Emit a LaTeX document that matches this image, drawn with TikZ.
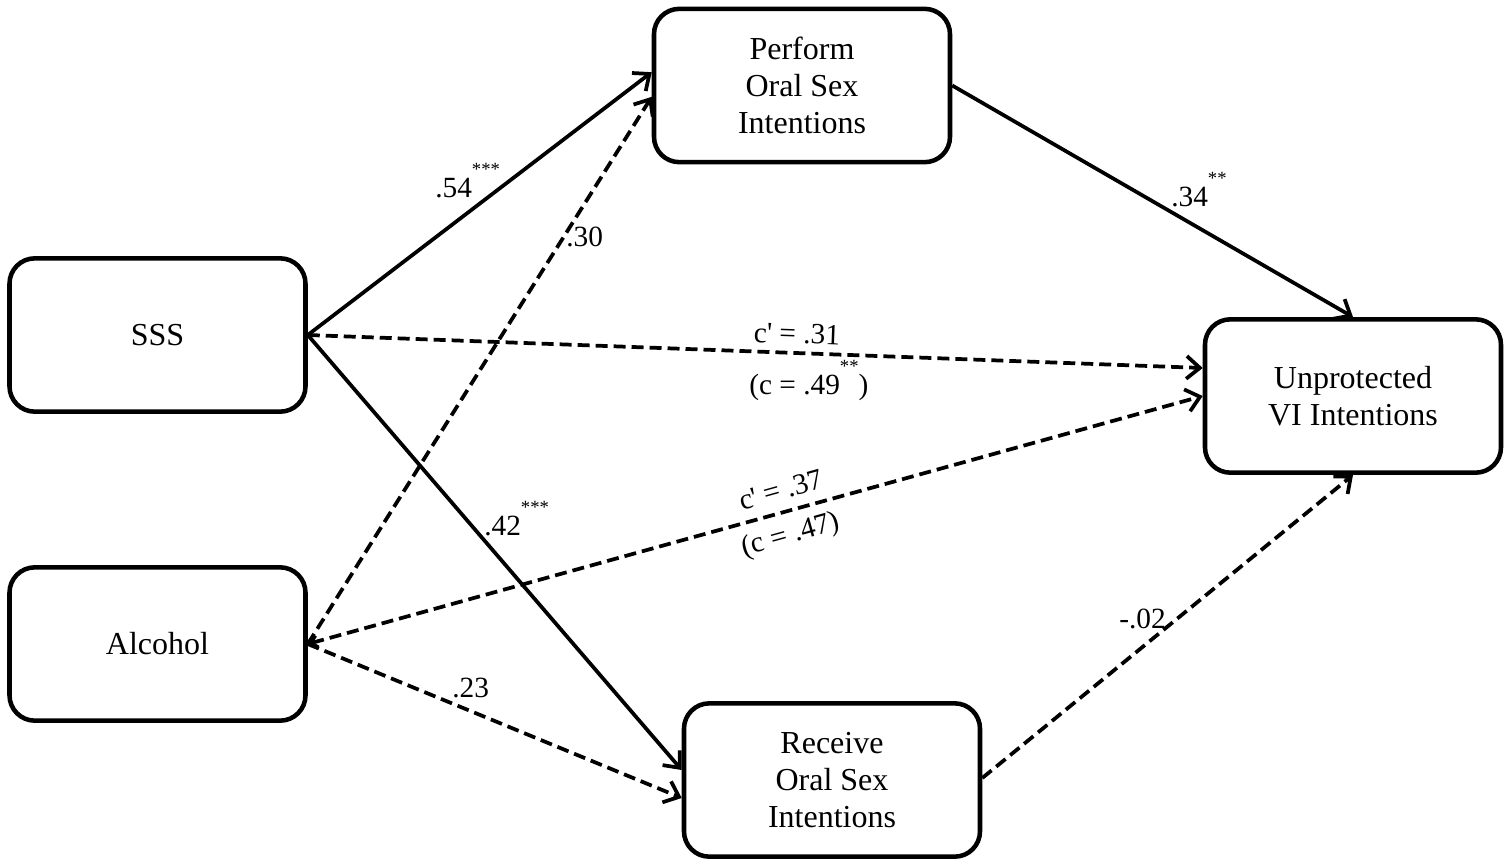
\documentclass[tikz,border=0pt]{standalone}
\usepackage{fontspec}
\setmainfont{Liberation Serif}
\usetikzlibrary{arrows.meta}
\newcommand{\stars}[1]{\raisebox{1.6ex}{\fontsize{14}{14}\selectfont#1}}
\tikzset{
  box/.style={draw, line width=3.4pt, rounded corners=19pt, minimum width=222pt, minimum height=115pt,
    inner sep=0pt, align=center, font=\fontsize{24}{27.8}\selectfont},
  path/.style={line width=2.8pt, -{Straight Barb[length=10pt,width=17pt]}},
  dpath/.style={path, dash pattern=on 9pt off 4.5pt},
  lbl/.style={font=\fontsize{22}{24}\selectfont, inner sep=0pt}
}
\begin{document}
\begin{tikzpicture}[x=0.75pt,y=-0.75pt]
\useasboundingbox (0,0) rectangle (1511,861);
\node[box] (perf) at (802,85.5) {Perform\\Oral Sex\\Intentions};
\node[box] (sss) at (157.5,335) {SSS};
\node[box] (alc) at (157.5,644) {Alcohol};
\node[box] (rec) at (832,780) {Receive\\Oral Sex\\Intentions};
\node[box] (unp) at (1353,396) {Unprotected\\VI Intentions};

\draw[path] (sss.east) -- ([yshift=10pt]perf.west);
\draw[dpath] (alc.east) -- ([yshift=-8.5pt]perf.west);
\draw[dpath] (sss.east) -- ([yshift=21pt]unp.west);
\draw[dpath, {Straight Barb[length=5pt,width=9pt]}-{Straight Barb[length=10pt,width=17pt]}] (alc.east) -- (unp.west);
\draw[path] (sss.east) -- ([yshift=7.5pt]rec.west);
\draw[dpath] (alc.east) -- ([yshift=-13.5pt]rec.west);
\draw[path] (perf.east) -- (unp.north);
\draw[dpath] ([yshift=1.5pt]rec.east) -- (unp.south);

\node[lbl, anchor=base west] (l54) at (435,197) {.54\stars{***}};
\node[lbl, anchor=base west] (l30) at (566,246) {.30};
\node[lbl, anchor=base west] (l34) at (1171,206) {.34\stars{**}};
\node[lbl, rotate=-2] (l31) at (797,334) {c\textquotesingle{} = .31};
\node[lbl, anchor=base west] (l49) at (749,394) {(c = .49\stars{**})};
\node[lbl, rotate=15.6] (l37) at (781,490) {c\textquotesingle{} = .37};
\node[lbl, rotate=15.6] (l47) at (791,536) {(c = .47)};
\node[lbl, anchor=base west] (l42) at (484,535) {.42\stars{***}};
\node[lbl, anchor=base west] (l23) at (452,697) {.23};
\node[lbl, anchor=base west] (l02) at (1119,628) {-.02};
\end{tikzpicture}
\end{document}
